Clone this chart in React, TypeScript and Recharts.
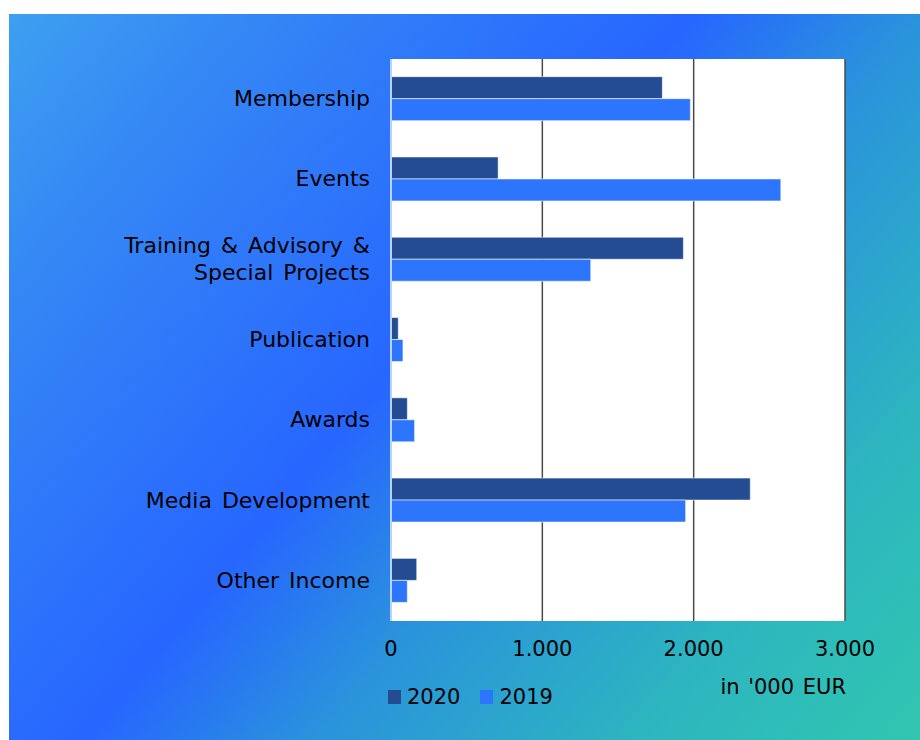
import React from "react";
import {
  BarChart, Bar, XAxis, YAxis, CartesianGrid, Legend,
} from "recharts";

const categories = [
  "Membership",
  "Events",
  "Training & Advisory &\nSpecial Projects",
  "Publication",
  "Awards",
  "Media Development",
  "Other Income",
];
const values2020 = [1793, 708, 1932, 48, 108, 2374, 170];
const values2019 = [1978, 2576, 1320, 79, 156, 1947, 108];
const xTicks = [0, 1000, 2000, 3000];

const COLOR_2020 = "#234c92";
const COLOR_2019 = "#2e75fe";
const FONT = "'DejaVu Sans', Verdana, sans-serif";

const data = categories.map((name, i) => ({
  name,
  y2020: values2020[i],
  y2019: values2019[i],
}));

const fmt = (v: number) => v.toLocaleString("de-DE");

function CategoryTick({ x, y, payload }: any) {
  const lines = String(payload.value).split("\n");
  const lh = 27;
  const start = -((lines.length - 1) * lh) / 2;
  return (
    <text x={x} y={y} textAnchor="end" fontSize={22} fontFamily={FONT} fill="#000" style={{ wordSpacing: 3 }}>
      {lines.map((l, i) => (
        <tspan key={i} x={x} dy={i === 0 ? start + 7 : lh}>{l}</tspan>
      ))}
    </text>
  );
}

function UnitLabel({ viewBox }: any) {
  if (!viewBox) return null;
  return (
    <text x={viewBox.x + viewBox.width + 1} y={viewBox.y + 73} textAnchor="end"
      fontSize={21} fontFamily={FONT} fill="#000" style={{ wordSpacing: 2 }}>
      in '000 EUR
    </text>
  );
}

function LegendContent() {
  const items = [
    { label: "2020", color: COLOR_2020 },
    { label: "2019", color: COLOR_2019 },
  ];
  return (
    <div style={{ display: "flex", alignItems: "center", fontFamily: FONT, fontSize: 21, color: "#000" }}>
      {items.map((it) => (
        <div key={it.label} style={{ display: "flex", alignItems: "center", marginRight: 20 }}>
          <span style={{ display: "inline-block", width: 13, height: 14, background: it.color, marginRight: 6 }} />
          <span>{it.label}</span>
        </div>
      ))}
    </div>
  );
}

export default function App() {
  return (
    <div style={{ position: "absolute", left: 0, top: 0, width: 920, height: 740, overflow: "hidden", background: "#fff" }}>
      <div
        style={{
          position: "absolute", left: 9, top: 14, width: 911, height: 726,
          background: "linear-gradient(130deg, #3da0f0 0%, #3587f5 16%, #2766ff 45%, #2a93dc 60%, #2db6bf 82%, #31c6b0 100%)",
        }}
      >
        <BarChart
          width={911}
          height={726}
          data={data}
          layout="vertical"
          margin={{ top: 45, right: 75, left: 0, bottom: 0 }}
          barCategoryGap="22%"
          barGap={0}
        >
          <CartesianGrid horizontal={false} stroke="#4a4a4a" strokeWidth={1.5} fill="#fff" fillOpacity={1} />
          <XAxis
            type="number"
            domain={[0, 3000]}
            ticks={xTicks}
            tickFormatter={fmt}
            height={119}
            axisLine={false}
            tickLine={false}
            tickSize={0}
            tickMargin={20}
            tick={{ fontSize: 21, fontFamily: FONT, fill: "#000" }}
            label={{ content: (p: any) => <UnitLabel {...p} /> }}
          />
          <YAxis
            type="category"
            dataKey="name"
            width={382}
            axisLine={{ stroke: "#b9d2ff", strokeWidth: 2 }}
            tickLine={false}
            tickSize={0}
            tickMargin={21}
            tick={<CategoryTick />}
            interval={0}
          />
          <Legend
            layout="vertical"
            align="center"
            verticalAlign="middle"
            content={() => <LegendContent />}
            wrapperStyle={{ position: "absolute", left: 379, top: 671, width: 260, height: 26 }}
          />
          <Bar dataKey="y2020" name="2020" fill={COLOR_2020} stroke="rgba(255,255,255,0.55)" strokeWidth={1} isAnimationActive={false} />
          <Bar dataKey="y2019" name="2019" fill={COLOR_2019} stroke="rgba(255,255,255,0.55)" strokeWidth={1} isAnimationActive={false} />
        </BarChart>
      </div>
    </div>
  );
}
